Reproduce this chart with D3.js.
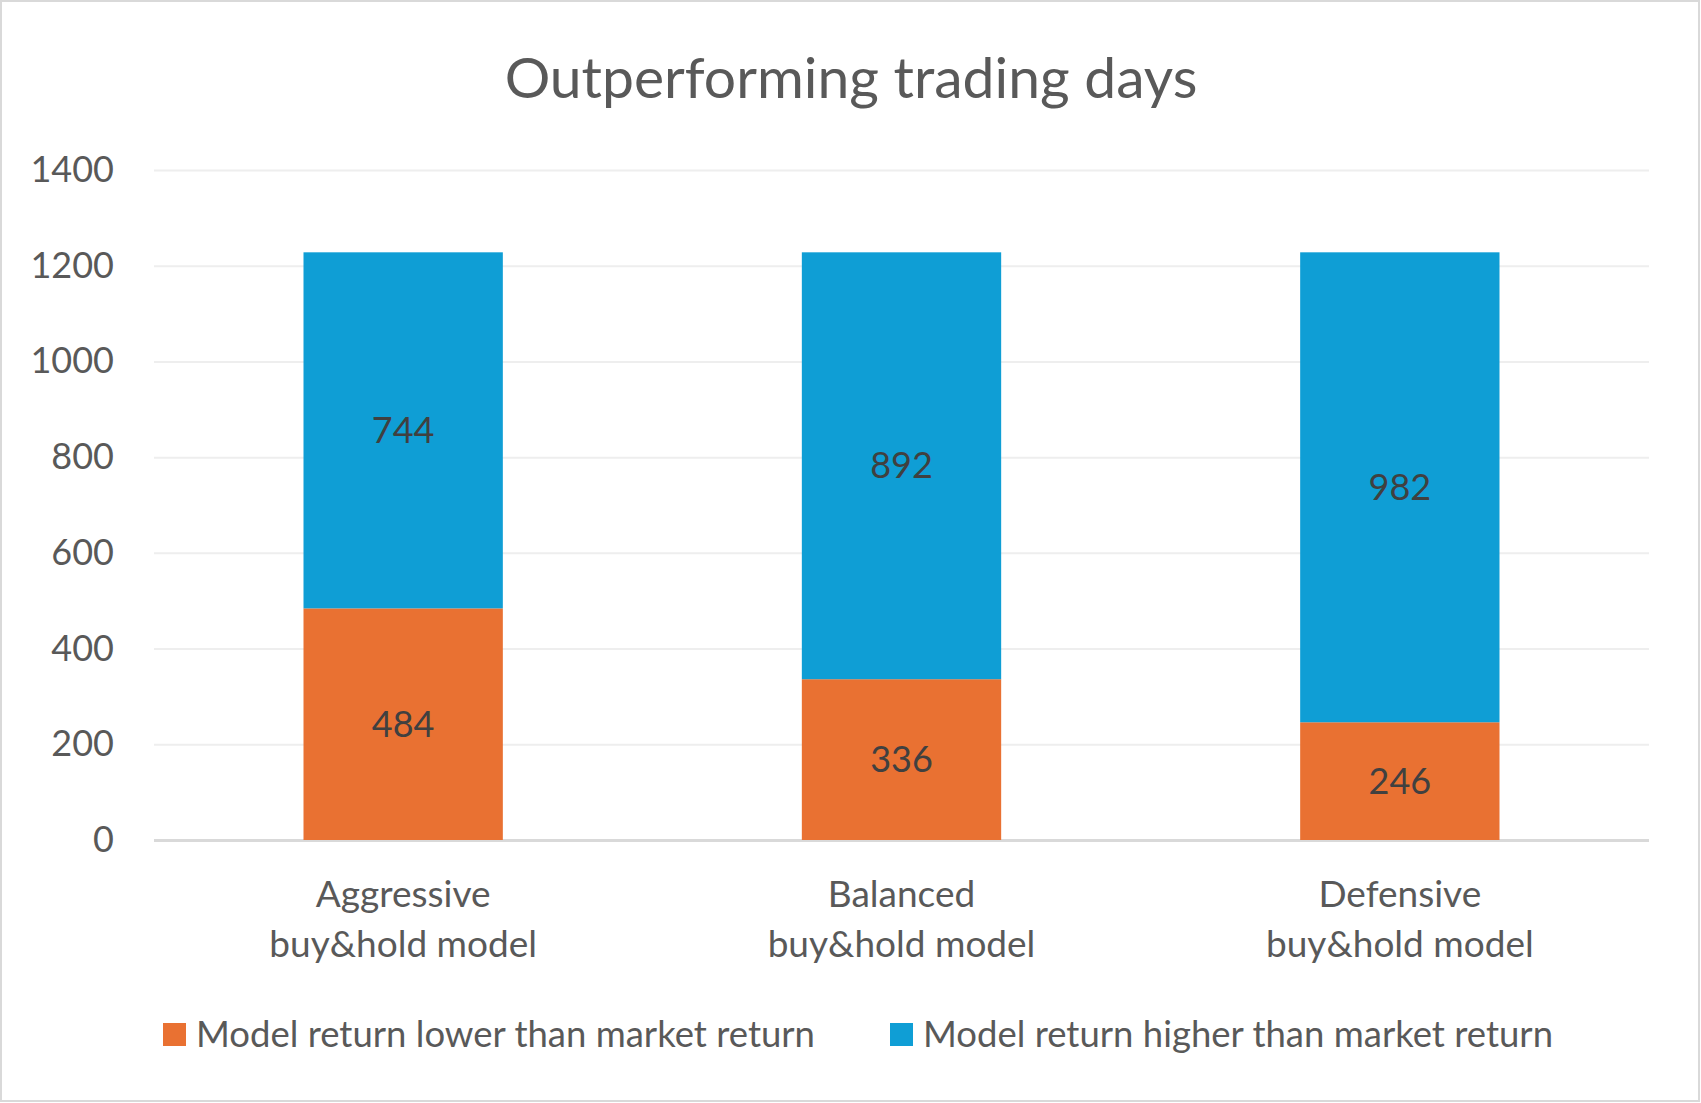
<!DOCTYPE html>
<html>
<head>
<meta charset="utf-8">
<script src="https://cdn.jsdelivr.net/npm/d3@7"></script>
<style>
  html, body { margin: 0; padding: 0; background: #fff; }
  svg { display: block; font-family: Lato, "Noto Sans", sans-serif; }
</style>
</head>
<body>
<svg id="chart" width="1701" height="1103"></svg>
<script>
const categories = [
  ["Aggressive", "buy&hold model"],
  ["Balanced", "buy&hold model"],
  ["Defensive", "buy&hold model"]
];
const seriesNames = [
  "Model return lower than market return",
  "Model return higher than market return"
];
const lowerDays = [484, 336, 246];
const higherDays = [744, 892, 982];
const yTicks = [0, 200, 400, 600, 800, 1000, 1200, 1400];

const width = 1701;
const height = 1103;
const colors = ["#E97132", "#0F9ED5"];
const textColor = "#595959";

const svg = d3.select("#chart");

// outer border
svg.append("rect")
  .attr("x", 1).attr("y", 1)
  .attr("width", width - 3).attr("height", height - 3)
  .attr("fill", "#fff")
  .attr("stroke", "#D9D9D9")
  .attr("stroke-width", 2);

const margin = { left: 154, right: 52, top: 170, bottom: 263 };
const plotW = width - margin.left - margin.right;
const plotH = height - margin.top - margin.bottom;

const x = d3.scaleBand()
  .domain(categories.map(d => d[0]))
  .range([0, plotW])
  .paddingInner(0.6)
  .paddingOuter(0.3);

const y = d3.scaleLinear()
  .domain([0, 1400])
  .range([plotH, 0]);

const g = svg.append("g")
  .attr("transform", `translate(${margin.left},${margin.top})`);

// title
svg.append("text")
  .attr("x", 851)
  .attr("y", 98)
  .attr("text-anchor", "middle")
  .style("font-size", "57px")
  .style("fill", textColor)
  .text("Outperforming trading days");

// gridlines
const grid = g.append("g")
  .call(d3.axisLeft(y).tickValues(yTicks).tickSize(-plotW).tickFormat(""));
grid.select(".domain").remove();
grid.selectAll(".tick line")
  .attr("stroke", d => d === 0 ? "#D9D9D9" : "#EEEEEE")
  .attr("stroke-width", d => d === 0 ? 3 : 2);

// y labels
const yAxis = g.append("g")
  .call(d3.axisLeft(y).tickValues(yTicks).tickSize(0).tickPadding(40).tickFormat(d3.format("d")));
yAxis.select(".domain").remove();
yAxis.selectAll("text")
  .style("font-size", "36px")
  .style("fill", textColor)
  .style("font-family", "Lato, sans-serif");

// stacked data
const rows = categories.map((c, i) => ({ cat: c[0], lower: lowerDays[i], higher: higherDays[i] }));
const stack = d3.stack().keys(["lower", "higher"])(rows);

const layers = g.selectAll(".layer")
  .data(stack)
  .enter()
  .append("g")
  .attr("fill", (d, i) => colors[i]);

layers.selectAll("rect")
  .data(d => d)
  .enter()
  .append("rect")
  .attr("x", d => x(d.data.cat))
  .attr("y", d => y(d[1]))
  .attr("width", x.bandwidth())
  .attr("height", d => y(d[0]) - y(d[1]));

layers.selectAll("text")
  .data(d => d)
  .enter()
  .append("text")
  .attr("x", d => x(d.data.cat) + x.bandwidth() / 2)
  .attr("y", d => (y(d[0]) + y(d[1])) / 2)
  .attr("dy", "0.35em")
  .attr("text-anchor", "middle")
  .style("font-size", "36px")
  .style("fill", "#404040")
  .text(d => d[1] - d[0]);

// category labels
const xl = g.append("g")
  .attr("transform", `translate(0,${plotH})`);
categories.forEach(c => {
  const t = xl.append("text")
    .attr("x", x(c[0]) + x.bandwidth() / 2)
    .attr("y", 67)
    .attr("text-anchor", "middle")
    .style("font-size", "37px")
    .style("fill", textColor);
  t.append("tspan").attr("x", x(c[0]) + x.bandwidth() / 2).text(c[0]);
  t.append("tspan").attr("x", x(c[0]) + x.bandwidth() / 2).attr("dy", 50).text(c[1]);
});

// legend
const legendX = [163, 890];
const legend = svg.append("g");
seriesNames.forEach((name, i) => {
  legend.append("rect")
    .attr("x", legendX[i])
    .attr("y", 1023)
    .attr("width", 23)
    .attr("height", 23)
    .attr("fill", colors[i]);
  legend.append("text")
    .attr("x", legendX[i] + 33)
    .attr("y", 1047)
    .style("font-size", "36.5px")
    .style("fill", textColor)
    .text(name);
});
</script>
</body>
</html>
